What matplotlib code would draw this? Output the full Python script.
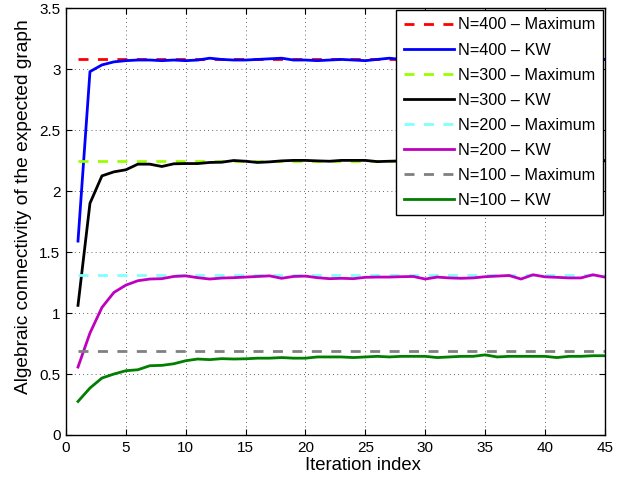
import matplotlib
matplotlib.use("Agg")
import matplotlib.pyplot as plt
import numpy as np

plt.rcParams['font.family'] = ['Liberation Sans', 'DejaVu Sans']

iters = list(range(1, 46))

max400 = 3.08
max300 = 2.25
max200 = 1.31
max100 = 0.69

kw400 = [1.59, 2.98, 3.035, 3.06, 3.07, 3.075, 3.075, 3.07, 3.075, 3.07,
         3.075, 3.09, 3.08, 3.075, 3.075, 3.08, 3.085, 3.09, 3.075, 3.075,
         3.07, 3.075, 3.08, 3.075, 3.07, 3.08, 3.09, 3.08, 3.08, 3.075,
         3.08, 3.085, 3.08, 3.075, 3.08, 3.08, 3.085, 3.075, 3.08, 3.08,
         3.085, 3.075, 3.08, 3.08, 3.08]
kw300 = [1.063, 1.90, 2.125, 2.158, 2.175, 2.221, 2.221, 2.202, 2.224, 2.226,
         2.226, 2.235, 2.237, 2.251, 2.245, 2.235, 2.24, 2.248, 2.252, 2.252,
         2.248, 2.245, 2.252, 2.252, 2.252, 2.242, 2.245, 2.248, 2.25, 2.245,
         2.25, 2.252, 2.248, 2.245, 2.25, 2.25, 2.248, 2.252, 2.25, 2.245,
         2.25, 2.252, 2.248, 2.25, 2.25]
kw200 = [0.557, 0.836, 1.046, 1.169, 1.229, 1.265, 1.279, 1.282, 1.30, 1.305,
         1.29, 1.279, 1.287, 1.29, 1.295, 1.30, 1.305, 1.285, 1.30, 1.303,
         1.29, 1.282, 1.285, 1.282, 1.293, 1.295, 1.295, 1.298, 1.30, 1.279,
         1.295, 1.288, 1.285, 1.288, 1.298, 1.303, 1.308, 1.279, 1.314, 1.297,
         1.293, 1.288, 1.288, 1.314, 1.295]
kw100 = [0.275, 0.385, 0.467, 0.50, 0.527, 0.535, 0.568, 0.571, 0.584, 0.609,
         0.623, 0.618, 0.626, 0.623, 0.625, 0.63, 0.63, 0.635, 0.63, 0.63,
         0.64, 0.64, 0.64, 0.635, 0.64, 0.645, 0.64, 0.645, 0.645, 0.645,
         0.635, 0.64, 0.645, 0.645, 0.657, 0.64, 0.645, 0.645, 0.645, 0.645,
         0.635, 0.645, 0.645, 0.65, 0.65]

fig = plt.figure(figsize=(6.36, 4.83), dpi=100)
ax = fig.add_axes([0.1038, 0.0994, 0.8472, 0.8836])

lw = 2.0
dash = (0, (3.6, 3.4))
ax.plot(iters, [max400] * len(iters), color='#ff0000', lw=lw, linestyle=dash, label='N=400 – Maximum')
ax.plot(iters, kw400, color='#0000ff', lw=lw, label='N=400 – KW')
ax.plot(iters, [max300] * len(iters), color='#99ff00', lw=lw, linestyle=dash, label='N=300 – Maximum')
ax.plot(iters, kw300, color='#000000', lw=lw, label='N=300 – KW')
ax.plot(iters, [max200] * len(iters), color='#80ffff', lw=lw, linestyle=dash, label='N=200 – Maximum')
ax.plot(iters, kw200, color='#bf00bf', lw=lw, label='N=200 – KW')
ax.plot(iters, [max100] * len(iters), color='#808080', lw=lw, linestyle=dash, label='N=100 – Maximum')
ax.plot(iters, kw100, color='#007f00', lw=lw, label='N=100 – KW')

ax.set_xlim(0, 45)
ax.set_ylim(0, 3.5)
ax.set_xticks(np.arange(0, 46, 5))
ax.set_yticks(np.arange(0, 3.51, 0.5))
ax.set_yticklabels(['0', '0.5', '1', '1.5', '2', '2.5', '3', '3.5'])
ax.tick_params(direction='in', length=4, labelsize=11, top=True, right=True, pad=4)
ax.grid(True, color='black', linestyle=(0, (1, 4)), linewidth=0.6, alpha=0.8)
for s in ax.spines.values():
    s.set_linewidth(1.0)

ax.set_xlabel('Iteration index', fontsize=13.3)
ax.set_ylabel('Algebraic connectivity of the expected graph', fontsize=13.8)
ax.xaxis.set_label_coords(0.551, -0.052)
ax.yaxis.set_label_coords(-0.063, 0.534)

leg = ax.legend(loc='upper right', fontsize=11.7, frameon=True, fancybox=False,
                edgecolor='black', borderaxespad=0.12, handlelength=3.1,
                labelspacing=0.62, handletextpad=0.25, borderpad=0.45)
leg.get_frame().set_linewidth(1.0)
leg.get_frame().set_alpha(1.0)

fig.savefig('out.png', dpi=100)
